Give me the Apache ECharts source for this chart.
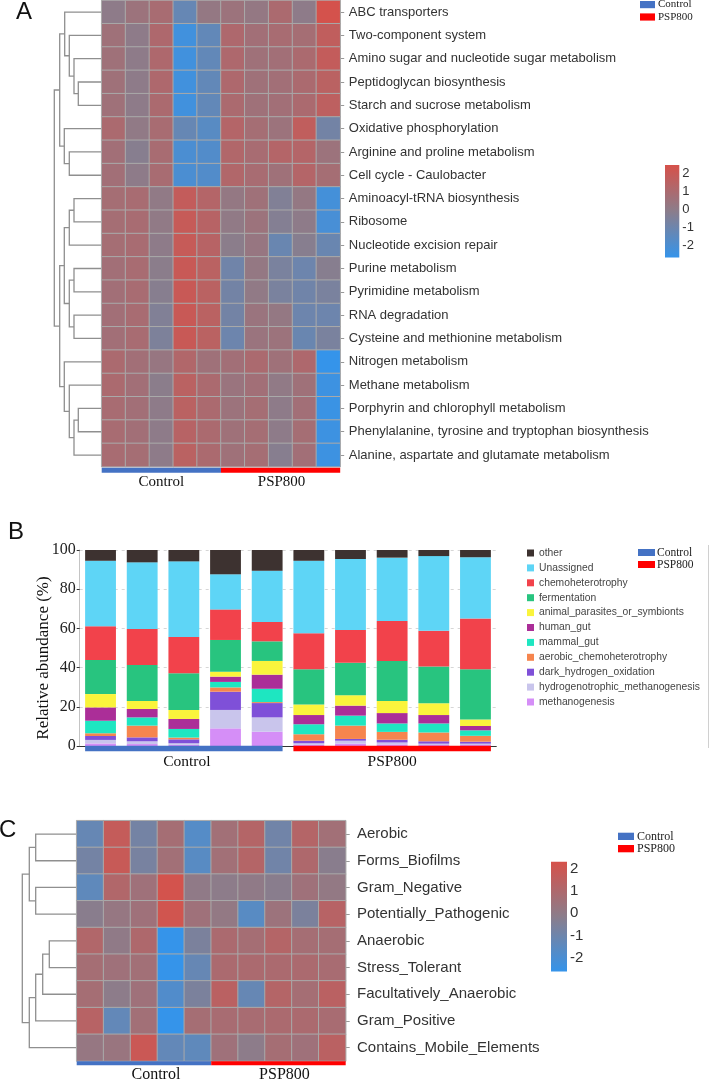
<!DOCTYPE html>
<html lang="en">
<head>
<meta charset="utf-8" />
<title>KEGG pathways / FAPROTAX functions</title>
<script src="https://cdn.jsdelivr.net/npm/echarts@6.0.0/dist/echarts.min.js"></script>
<style>
  html, body { margin: 0; padding: 0; background: #fff; }
  #main { width: 710px; height: 1083px; }
</style>
</head>
<body>
<div id="main"></div>
<script>
// ---------- shared ----------
const samples = ['C1', 'C2', 'C3', 'C4', 'C5', 'P1', 'P2', 'P3', 'P4', 'P5'];
const groups = ['Control', 'PSP800'];
const groupStart = [0, 5];
const groupEnd = [4, 9];

// ---------- A: KEGG pathways (row z-score) ----------
const pathways = [
  'ABC transporters', 'Two-component system', 'Amino sugar and nucleotide sugar metabolism',
  'Peptidoglycan biosynthesis', 'Starch and sucrose metabolism', 'Oxidative phosphorylation',
  'Arginine and proline metabolism', 'Cell cycle - Caulobacter', 'Aminoacyl-tRNA biosynthesis',
  'Ribosome', 'Nucleotide excision repair', 'Purine metabolism', 'Pyrimidine metabolism',
  'RNA degradation', 'Cysteine and methionine metabolism', 'Nitrogen metabolism',
  'Methane metabolism', 'Porphyrin and chlorophyll metabolism',
  'Phenylalanine, tyrosine and tryptophan biosynthesis', 'Alanine, aspartate and glutamate metabolism'
];
const keggZ = [
  [0.0, 0.5, 0.9, -1.2, 0.2, 0.5, 0.2, 1.0, 0.0, 2.4],
  [0.6, 0.0, 1.1, -2.3, -1.3, 1.1, 0.7, 0.9, 0.8, 1.7],
  [0.6, 0.0, 1.1, -2.3, -1.3, 1.1, 0.6, 0.7, 1.0, 1.8],
  [0.6, 0.0, 1.1, -2.3, -1.3, 1.1, 0.6, 0.7, 1.0, 1.5],
  [0.6, 0.0, 1.0, -2.3, -1.3, 1.0, 0.6, 0.7, 1.0, 1.6],
  [1.0, 0.1, 0.9, -1.2, -1.6, 1.3, 0.8, 0.5, 1.7, -0.8],
  [0.7, -0.2, 0.9, -2.0, -1.8, 1.2, 0.9, 1.3, 1.3, 0.5],
  [0.7, 0.0, 0.9, -2.0, -1.8, 1.2, 0.9, 0.6, 1.3, 0.8],
  [0.8, 0.9, 0.1, 1.8, 1.3, 0.2, 0.6, -0.4, 0.2, -2.2],
  [0.8, 0.9, 0.1, 1.9, 1.4, 0.1, 0.5, -0.3, 0.0, -2.1],
  [0.8, 0.9, 0.0, 1.9, 1.4, -0.1, 0.3, -1.1, -0.2, -1.1],
  [0.7, 0.9, -0.1, 2.0, 1.5, -0.9, 0.2, -0.6, -1.0, -0.2],
  [0.7, 0.9, -0.2, 2.0, 1.5, -0.8, 0.1, -0.6, -0.9, -0.6],
  [0.7, 0.9, -0.4, 2.0, 1.5, -0.8, 0.4, 0.2, -1.0, -1.0],
  [0.7, 0.9, -0.5, 2.0, 1.5, -1.0, 0.4, 0.5, -1.1, -0.6],
  [1.0, 0.7, 0.3, 1.2, 0.6, 0.7, 1.0, 0.6, 1.1, -2.7],
  [1.0, 0.7, -0.1, 1.5, 1.0, 0.4, 0.7, 0.1, 0.6, -2.4],
  [0.9, 0.7, 0.0, 1.5, 1.0, 0.5, 0.8, 0.0, 0.7, -2.5],
  [0.9, 0.7, 0.0, 1.4, 1.0, 0.6, 0.8, 0.0, 0.8, -2.4],
  [0.9, 0.8, 0.0, 1.5, 1.0, 0.6, 0.8, -0.2, 0.7, -2.4]
];
// row clustering: [a, b, height]; ids >= rows refer to earlier merges
const keggTree = [
  [3, 4, 2.34], [2, 20, 2.77], [1, 21, 3.24], [0, 22, 3.7],
  [6, 7, 3.24], [5, 24, 3.74], [23, 25, 4.2],
  [8, 9, 2.77], [27, 10, 3.24], [11, 12, 2.77], [13, 14, 2.77], [29, 30, 3.24], [28, 31, 3.74],
  [17, 18, 2.34], [33, 19, 2.77], [16, 34, 3.24], [15, 35, 3.74], [32, 36, 4.2],
  [26, 37, 4.74]
];
const keggScale = [-2.65, 2.46];
const keggTicks = [-2, -1, 0, 1, 2];

// ---------- B: FAPROTAX relative abundance (%) ----------
const fnNames = ['methanogenesis', 'hydrogenotrophic_methanogenesis', 'dark_hydrogen_oxidation',
  'aerobic_chemoheterotrophy', 'mammal_gut', 'human_gut', 'animal_parasites_or_symbionts',
  'fermentation', 'chemoheterotrophy', 'Unassigned', 'other'];
const methanogenesis   = [1.3, 1.0, 0.6, 9.0, 7.3, 0.6, 1.2, 0.8, 0.5, 0.5];
const hydrogenotrophic = [1.8, 1.4, 0.8, 9.4, 7.3, 0.8, 1.5, 1.0, 0.7, 0.7];
const darkHydrogen     = [2.0, 2.0, 2.0, 9.3, 7.3, 1.3, 0.9, 1.4, 1.2, 1.0];
const aerobicChemo     = [1.4, 6.0, 0.9, 2.2, 0.5, 3.3, 6.8, 4.0, 4.5, 3.0];
const mammalGut        = [6.4, 4.2, 4.4, 2.8, 6.8, 5.1, 5.1, 4.3, 4.6, 2.8];
const humanGut         = [6.8, 4.3, 5.1, 2.7, 7.2, 4.7, 5.1, 5.3, 4.3, 2.2];
const animalParasites  = [6.8, 4.1, 4.6, 2.5, 7.0, 5.4, 5.3, 6.2, 6.0, 3.3];
const fermentation     = [17.4, 18.3, 18.7, 16.2, 10.0, 17.9, 16.6, 20.4, 18.7, 25.6];
const chemoheterotrophy = [17.2, 18.4, 18.5, 15.6, 9.9, 18.4, 16.7, 20.4, 18.3, 25.9];
const unassigned       = [33.4, 34.0, 38.6, 17.9, 26.1, 37.0, 36.2, 32.3, 38.1, 31.3];
const other            = [5.5, 6.3, 5.8, 12.4, 10.6, 5.5, 4.6, 3.9, 3.1, 3.7];
const fnValues = [methanogenesis, hydrogenotrophic, darkHydrogen, aerobicChemo, mammalGut,
  humanGut, animalParasites, fermentation, chemoheterotrophy, unassigned, other];

// ---------- C: BugBase phenotypes (row z-score) ----------
const traits = ['Aerobic', 'Forms_Biofilms', 'Gram_Negative', 'Potentially_Pathogenic', 'Anaerobic',
  'Stress_Tolerant', 'Facultatively_Anaerobic', 'Gram_Positive', 'Contains_Mobile_Elements'];
const traitZ = [
  [-1.2, 1.7, -0.8, 0.7, -1.7, 0.6, 1.2, -0.9, 1.2, 0.6],
  [-0.8, 1.8, -0.7, 0.6, -1.6, 0.6, 1.2, -0.9, 1.0, -0.2],
  [-1.4, 1.1, 0.5, 2.2, 0.0, -0.1, 0.0, -0.2, 0.5, 0.1],
  [-0.2, 0.2, 0.5, 2.1, 0.5, 0.1, -1.6, 0.4, -0.6, 1.3],
  [1.1, 0.0, 1.0, -2.6, -0.6, 0.9, 0.7, 1.2, 0.7, 0.7],
  [0.7, 0.5, 0.6, -2.6, -1.2, 0.9, 0.9, 0.9, 0.9, 0.8],
  [0.7, -0.1, 0.5, -1.8, -0.6, 1.4, -1.2, 1.2, 0.7, 1.4],
  [1.3, -1.3, 0.6, -2.6, 0.7, 0.8, 0.8, 0.9, 0.9, 0.8],
  [0.2, 0.3, 1.9, -1.3, -1.4, 0.5, -0.1, 0.7, 0.5, 1.4]
];
const traitTree = [
  [0, 1, 4.1], [2, 3, 4.1], [9, 10, 4.74],
  [4, 5, 2.74], [12, 6, 3.4], [13, 7, 4.1], [14, 8, 4.74],
  [11, 15, 5.44]
];
const traitScale = [-2.6, 2.3];
const traitTicks = [-2, -1, 0, 1, 2];

// ---------- styles ----------
const SANS = '"Liberation Sans", Arial, sans-serif';
const SERIF = '"Liberation Serif", "Times New Roman", serif';
const heatColors = ['#3594ea', '#8b7d8b', '#d6514a'];
const groupColors = ['#4472c4', '#ff0000'];
const fnColors = ['#d58ef7', '#c9c5ec', '#7f50d8', '#f6854e', '#1ee6c1', '#ab2e98',
  '#faf43c', '#28c47f', '#f2424b', '#5ed5f6', '#3d3230'];

const chart = echarts.init(document.getElementById('main'));

// linkage -> U-shaped polylines in (height, row) space
function treeLines(n, merges) {
  const pos = [];
  for (let i = 0; i < n; i++) pos.push([0, i]);
  const out = [];
  merges.forEach(function (m) {
    const a = pos[m[0]], b = pos[m[1]], h = m[2];
    out.push({ coords: [[a[0], a[1]], [h, a[1]], [h, b[1]], [b[0], b[1]]] });
    pos.push([h, (a[1] + b[1]) / 2]);
  });
  return out;
}

function cells(z) {
  const out = [];
  z.forEach(function (row, r) {
    row.forEach(function (v, c) { out.push([c, r, v]); });
  });
  return out;
}

function groupData() {
  return groups.map(function (g, i) { return [groupStart[i], groupEnd[i], i]; });
}

// sample-group strip + label under a panel
function groupRender(o) {
  return function (params, api) {
    const i = api.value(2);
    const half = api.size([1, 0])[0] * o.fill / 2;
    const x0 = api.coord([api.value(0), 0])[0] - half;
    const x1 = api.coord([api.value(1), 0])[0] + half;
    const base = o.base(api);
    return {
      type: 'group',
      children: [
        { type: 'rect', shape: { x: x0, y: base + o.gap, width: x1 - x0, height: o.h },
          style: { fill: groupColors[i] } },
        { type: 'text', x: (x0 + x1) / 2 + o.dx[i], y: base + o.labelDy,
          style: { text: groups[i], font: o.font, fill: '#111', align: 'center', verticalAlign: 'middle' } }
      ]
    };
  };
}

function colourBar(params, api) {
  const p1 = api.coord([0, api.value(2)]);
  const p2 = api.coord([1, api.value(1)]);
  return {
    type: 'rect',
    shape: { x: p1[0], y: p1[1], width: p2[0] - p1[0], height: p2[1] - p1[1] },
    style: {
      fill: new echarts.graphic.LinearGradient(0, 1, 0, 0, [
        { offset: 0, color: heatColors[0] },
        { offset: 0.5, color: heatColors[1] },
        { offset: 1, color: heatColors[2] }
      ])
    }
  };
}

function heatBottom(n) {
  return function (api) { return api.coord([0, n - 1])[1] + api.size([0, 1])[1] / 2; };
}

// legend swatches for the two groups
function groupKey(x, y, w, h, step, tx, fs) {
  const els = [];
  groups.forEach(function (g, i) {
    els.push({ type: 'rect', shape: { x: x, y: y + i * step, width: w, height: h },
      style: { fill: groupColors[i] } });
    els.push({ type: 'text', x: tx, y: y + i * step + h / 2,
      style: { text: g, font: fs + 'px ' + SERIF, fill: '#222', verticalAlign: 'middle' } });
  });
  return els;
}

const series = [];
series.push({
  type: 'lines', coordinateSystem: 'cartesian2d', xAxisIndex: 0, yAxisIndex: 0,
  polyline: true, silent: true, clip: false,
  lineStyle: { color: '#8f8f8f', width: 1.3, opacity: 1 },
  data: treeLines(pathways.length, keggTree)
});
const heatA = series.length;
series.push({
  type: 'heatmap', xAxisIndex: 1, yAxisIndex: 1, data: cells(keggZ),
  itemStyle: { borderColor: '#a9a9a9', borderWidth: 1 },
  emphasis: { disabled: true }
});
series.push({
  type: 'custom', xAxisIndex: 1, yAxisIndex: 1, silent: true, data: groupData(),
  renderItem: groupRender({ fill: 1, gap: 1, h: 5, labelDy: 15.3, dx: [0, 1],
    font: '15px ' + SERIF, base: heatBottom(pathways.length) })
});
series.push({
  type: 'custom', xAxisIndex: 2, yAxisIndex: 2, silent: true,
  data: [[0, keggScale[0], keggScale[1]]], renderItem: colourBar
});

fnNames.forEach(function (name, k) {
  series.push({
    name: name, type: 'bar', stack: 'fn', xAxisIndex: 3, yAxisIndex: 3,
    barWidth: '74%', data: fnValues[k],
    itemStyle: { color: fnColors[k] },
    emphasis: { disabled: true }
  });
});
series.push({
  type: 'custom', xAxisIndex: 3, yAxisIndex: 3, silent: true, z: 5, data: groupData(),
  renderItem: groupRender({ fill: 0.74, gap: -0.3, h: 5.5, labelDy: 15.7, dx: [3, 0],
    font: '15.5px ' + SERIF, base: function (api) { return api.coord([0, 0])[1]; } })
});

series.push({
  type: 'lines', coordinateSystem: 'cartesian2d', xAxisIndex: 4, yAxisIndex: 4,
  polyline: true, silent: true, clip: false,
  lineStyle: { color: '#8f8f8f', width: 1.3, opacity: 1 },
  data: treeLines(traits.length, traitTree)
});
const heatC = series.length;
series.push({
  type: 'heatmap', xAxisIndex: 5, yAxisIndex: 5, data: cells(traitZ),
  itemStyle: { borderColor: '#a9a9a9', borderWidth: 1 },
  emphasis: { disabled: true }
});
series.push({
  type: 'custom', xAxisIndex: 5, yAxisIndex: 5, silent: true, data: groupData(),
  renderItem: groupRender({ fill: 1, gap: 0.3, h: 4, labelDy: 14, dx: [12, 6],
    font: '16px ' + SERIF, base: heatBottom(traits.length) })
});
series.push({
  type: 'custom', xAxisIndex: 6, yAxisIndex: 6, silent: true,
  data: [[0, traitScale[0], traitScale[1]]], renderItem: colourBar
});

const grids = [
  { left: 54.3, top: 0.4, width: 47.4, height: 466.3 },   // A tree
  { left: 101.7, top: 0.4, width: 238.5, height: 466.3 }, // A heatmap
  { left: 665, top: 155.2, width: 14.3, height: 108.6 },  // A colour bar
  { left: 79.7, top: 550, width: 416.6, height: 196 },    // B bars
  { left: 22.3, top: 820.7, width: 54.4, height: 240.3 }, // C tree
  { left: 76.7, top: 820.7, width: 269, height: 240.3 },  // C heatmap
  { left: 551, top: 846, width: 16, height: 134.4 }       // C colour bar
].map(function (g) { return Object.assign({ containLabel: false, outerBoundsMode: 'none' }, g); });

function tickFormatter(list) {
  return function (v) { return list.indexOf(v) >= 0 ? String(v) : ''; };
}

const option = {
  animation: false,
  backgroundColor: '#fff',
  grid: grids,
  xAxis: [
    { gridIndex: 0, type: 'value', min: 0, max: 4.74, inverse: true, show: false },
    { gridIndex: 1, type: 'category', data: samples, show: false },
    { gridIndex: 2, type: 'value', min: 0, max: 1, show: false },
    { gridIndex: 3, type: 'category', data: samples,
      axisLine: { show: true, lineStyle: { color: '#333', width: 1 } },
      axisTick: { show: false }, axisLabel: { show: false } },
    { gridIndex: 4, type: 'value', min: 0, max: 5.44, inverse: true, show: false },
    { gridIndex: 5, type: 'category', data: samples, show: false },
    { gridIndex: 6, type: 'value', min: 0, max: 1, show: false }
  ],
  yAxis: [
    { gridIndex: 0, type: 'value', min: -0.5, max: pathways.length - 0.5, inverse: true, show: false },
    { gridIndex: 1, type: 'category', data: pathways, inverse: true, position: 'right',
      axisLine: { show: false },
      axisTick: { show: true, alignWithLabel: true, length: 4, lineStyle: { color: '#999' } },
      axisLabel: { margin: 8.6, fontFamily: SANS, fontSize: 13, color: '#333' } },
    { gridIndex: 2, type: 'value', min: -3, max: 3, interval: 1, position: 'right', z: 5,
      axisLine: { show: false }, splitLine: { show: false },
      axisTick: { show: true, inside: true, length: 4, lineStyle: { color: '#fff', width: 1.2 } },
      axisLabel: { margin: 3, fontFamily: SANS, fontSize: 13, color: '#333', formatter: tickFormatter(keggTicks) } },
    { gridIndex: 3, type: 'value', min: 0, max: 100, interval: 20,
      axisLine: { show: true, lineStyle: { color: '#c4c4c4' } },
      axisTick: { show: true, length: 3, lineStyle: { color: '#333' } },
      splitLine: { show: true, lineStyle: { color: '#d6d6d6', type: [3, 4] } },
      axisLabel: { margin: 4, fontFamily: SERIF, fontSize: 16, color: '#222' } },
    { gridIndex: 4, type: 'value', min: -0.5, max: traits.length - 0.5, inverse: true, show: false },
    { gridIndex: 5, type: 'category', data: traits, inverse: true, position: 'right',
      axisLine: { show: false },
      axisTick: { show: true, alignWithLabel: true, length: 4, lineStyle: { color: '#999' } },
      axisLabel: { margin: 11.3, fontFamily: SANS, fontSize: 15, color: '#333' } },
    { gridIndex: 6, type: 'value', min: -3, max: 3, interval: 1, position: 'right', z: 5,
      axisLine: { show: false }, splitLine: { show: false },
      axisTick: { show: true, inside: true, length: 4, lineStyle: { color: '#fff', width: 1.2 } },
      axisLabel: { margin: 3, fontFamily: SANS, fontSize: 15, color: '#333', formatter: tickFormatter(traitTicks) } }
  ],
  visualMap: [
    { type: 'continuous', show: false, seriesIndex: heatA, dimension: 2,
      min: keggScale[0], max: keggScale[1], inRange: { color: heatColors } },
    { type: 'continuous', show: false, seriesIndex: heatC, dimension: 2,
      min: traitScale[0], max: traitScale[1], inRange: { color: heatColors } }
  ],
  legend: {
    data: fnNames.slice().reverse(),
    orient: 'vertical', left: 527, top: 547, padding: 0,
    icon: 'rect', itemWidth: 7, itemHeight: 7, itemGap: 2.9,
    selectedMode: false,
    textStyle: { fontFamily: SANS, fontSize: 10.3, color: '#444', lineHeight: 12 }
  },
  graphic: [
    { type: 'text', x: 16, y: 12, style: { text: 'A', font: '24px ' + SANS, fill: '#111', verticalAlign: 'middle' } },
    { type: 'text', x: 8, y: 532, style: { text: 'B', font: '24px ' + SANS, fill: '#111', verticalAlign: 'middle' } },
    { type: 'text', x: -1, y: 830, style: { text: 'C', font: '24px ' + SANS, fill: '#111', verticalAlign: 'middle' } },
    { type: 'text', x: 44, y: 658, rotation: Math.PI / 2,
      style: { text: 'Relative abundance (%)', font: '17px ' + SERIF, fill: '#111', align: 'center', verticalAlign: 'middle' } },
    { type: 'line', shape: { x1: 708.5, y1: 545, x2: 708.5, y2: 748 }, style: { stroke: '#d0d0d0', lineWidth: 1 } }
  ]
    .concat(groupKey(640, 1, 15, 7.2, 12.4, 658, 11))
    .concat(groupKey(638, 549, 17, 7, 12, 657, 11.5))
    .concat(groupKey(618, 832.7, 16, 7.3, 12.3, 637, 12)),
  series: series
};

chart.setOption(option);
</script>
</body>
</html>
